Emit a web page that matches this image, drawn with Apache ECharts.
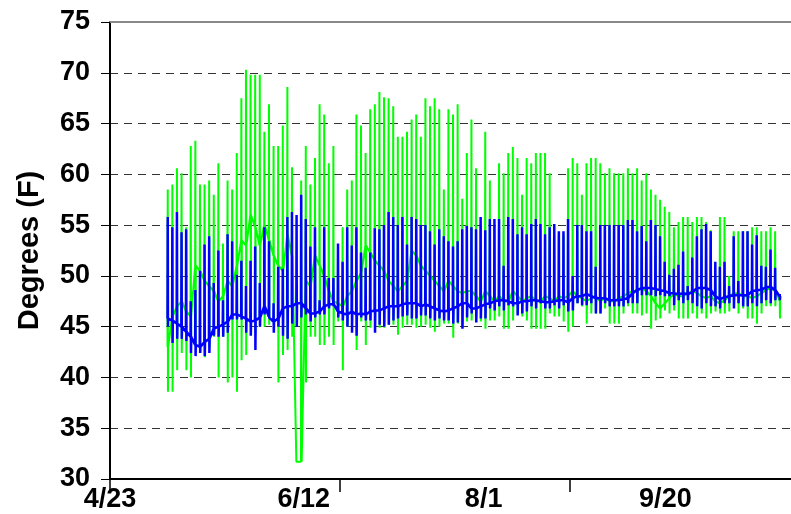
<!DOCTYPE html>
<html>
<head>
<meta charset="utf-8">
<script src="https://cdn.jsdelivr.net/npm/echarts@6/dist/echarts.min.js"></script>
<style>
  html, body { margin: 0; padding: 0; background: #fff; }
  #chart { width: 791px; height: 514px; }
</style>
</head>
<body>
<div id="chart"></div>
<script>
// Daily temperature readings (deg F), one entry per day starting at firstDay
// (days counted from 4/23). Each day: base level, daily high, daily low.
const firstDay = 12.5;

const greenBase = [
  43, 46, 47, 47.5, 46.5, 46, 51, 50.5, 49.5, 49, 48.5, 47.5, 48, 49.5, 49, 51, 53.5, 53, 56, 54.8, 53,
  55, 53.5, 52, 51, 50.5, 54, 52, 31.7, 31.7, 49.5, 49, 52, 51, 50, 48.5, 47.5, 47.3, 47, 48, 48.5, 49.5, 50.3,
  53, 52.3, 51.5, 51, 50.5, 49.5, 49, 48.5, 49, 49.5, 52.5, 52, 51, 50.5, 50, 49.5, 49, 48.5, 49.5, 49, 48.5, 48.3, 48.5,
  48.5, 48, 47.5, 48.5, 48, 47.5, 48, 47.5, 47.5, 48.5, 48, 47.5, 47.8, 48, 47.5, 47.5, 48, 47.8, 47.5, 48, 47.8, 48, 48.5,
  48, 47.8, 47.5, 47.8, 48, 47.5, 47.8, 47.5, 47.5, 47.8, 48, 48.3, 48.5, 48.6, 48.8, 48.5, 48, 47.3, 46.8, 47.3, 47.8, 48.2, 48,
  48, 48.3, 48.5, 48.3, 48, 47.8, 48, 47.5, 47.3, 47.6, 48, 48.3, 48.3, 48, 48, 47.8, 48, 48.3, 48.6, 48.8, 48.5, 47.6
];
const greenHigh = [
  58.5, 59.0, 60.6, 60.1, 54.8, 62.8, 63.3, 59.0, 59.0, 59.4, 58.0, 61.1, 53.2, 59.4, 58.5, 62.1, 67.5, 70.3, 69.8, 69.8, 69.8,
  64.2, 66.9, 62.8, 62.8, 64.8, 68.6, 60.7, 31.7, 59.4, 62.8, 59.0, 61.6, 66.9, 65.9, 61.1, 62.8, 53.0, 54.8, 58.5, 59.4, 65.9, 64.8,
  62.1, 66.4, 66.9, 68.1, 67.6, 67.5, 66.7, 63.7, 63.7, 64.2, 65.4, 65.9, 63.7, 67.5, 66.7, 67.5, 66.4, 58.5, 66.4, 65.9, 66.9, 57.6, 62.1,
  65.4, 60.6, 55.0, 64.2, 59.4, 55.0, 61.1, 60.1, 62.1, 62.7, 61.6, 58.0, 61.6, 61.1, 62.1, 62.1, 62.1, 60.1, 54.0, 54.0, 54.0, 60.6, 61.6,
  61.1, 58.0, 61.1, 61.6, 61.6, 61.1, 60.1, 60.6, 60.1, 60.1, 60.1, 60.6, 60.1, 60.6, 59.4, 60.1, 58.5, 58.0, 57.5, 56.8, 56.3, 54.8, 55.3,
  55.8, 55.8, 55.3, 55.8, 55.8, 55.3, 54.5, 50.0, 55.8, 55.8, 50.0, 54.4, 54.4, 54.4, 54.4, 54.8, 54.8, 54.4, 54.4, 54.8, 54.4, 48.2
];
const greenLow = [
  38.6, 38.6, 40.7, 42.4, 40.7, 40.0, 43.3, 43.0, 42.0, 43.0, 44.0, 40.0, 44.0, 39.5, 40.0, 38.6, 41.7, 42.2, 45.0, 44.5, 45.0,
  45.0, 45.2, 45.5, 39.5, 42.2, 42.7, 44.0, 31.7, 40.0, 39.5, 44.0, 44.0, 43.2, 43.2, 44.0, 43.2, 45.5, 40.7, 45.0, 45.5, 42.7, 45.5,
  43.2, 44.9, 44.9, 44.9, 44.9, 45.2, 45.2, 44.2, 44.9, 45.2, 45.2, 44.9, 45.0, 45.2, 44.9, 44.5, 45.0, 45.3, 45.3, 43.9, 45.3, 44.9, 45.5,
  45.6, 46.0, 45.5, 44.8, 45.6, 45.6, 46.0, 44.8, 44.8, 45.6, 46.3, 46.0, 45.6, 44.8, 44.8, 44.8, 44.8, 46.3, 46.0, 46.0, 45.5, 44.5, 45.0,
  47.3, 47.0, 45.3, 46.3, 46.3, 46.3, 46.8, 45.3, 45.3, 45.3, 46.3, 47.0, 46.3, 46.3, 46.1, 46.3, 44.8, 45.6, 45.8, 46.6, 46.3, 46.6, 45.8,
  45.8, 45.8, 46.3, 45.8, 46.3, 45.8, 46.3, 46.5, 46.3, 46.3, 46.5, 47.0, 46.3, 46.8, 45.8, 45.8, 45.3, 46.3, 47.0, 47.0, 47.0, 45.8
];

const blueBase = [
  45.8, 45.6, 45.3, 45.0, 44.5, 44.0, 43.2, 43.0, 43.5, 43.8, 44.8, 45.0, 45.2, 45.5, 46.2, 46.2, 46.0, 45.8, 45.5, 45.6, 45.9,
  47.0, 46.0, 45.5, 45.8, 46.8, 47.0, 47.0, 47.3, 47.3, 46.8, 46.3, 46.3, 46.5, 47.0, 47.2, 47.2, 46.5, 46.3, 46.2, 46.5, 46.2, 46.3,
  46.2, 46.5, 46.6, 46.6, 46.8, 47.0, 47.0, 47.0, 47.2, 47.3, 47.3, 47.3, 47.0, 47.2, 47.0, 46.8, 46.6, 46.5, 46.6, 46.8, 47.0, 47.3, 47.3,
  46.8, 46.8, 47.0, 47.2, 47.3, 47.5, 47.6, 47.6, 47.5, 47.3, 47.3, 47.5, 47.5, 47.6, 47.6, 47.5, 47.4, 47.4, 47.5, 47.6, 47.6, 47.4, 47.8,
  48.0, 48.0, 48.2, 48.0, 47.8, 47.8, 47.8, 47.6, 47.6, 47.6, 47.7, 47.8, 48.3, 48.6, 48.8, 48.8, 48.8, 48.7, 48.6, 48.5, 48.3, 48.3, 48.2,
  48.3, 48.2, 48.4, 48.8, 48.8, 48.8, 48.6, 48.0, 47.7, 47.9, 48.0, 48.1, 48.1, 48.1, 48.1, 48.5, 48.6, 48.6, 48.9, 48.9, 48.6, 48.0
];
const blueHigh = [
  55.8, 54.8, 56.3, 54.3, 54.6, 47.5, 48.6, 50.5, 53.1, 53.9, 49.3, 52.5, 47.6, 54.1, 53.4, 50.1, 51.5, 49.0, 51.5, 52.9, 49.3,
  54.8, 53.4, 47.3, 50.9, 50.7, 55.8, 56.3, 56.0, 58.0, 55.6, 52.9, 54.8, 47.6, 54.8, 49.8, 49.8, 53.2, 51.4, 54.8, 53.0, 54.8, 52.3,
  50.8, 52.3, 54.7, 54.6, 55.0, 56.3, 55.8, 55.0, 55.8, 53.1, 55.8, 55.6, 55.0, 55.0, 54.4, 53.1, 54.6, 53.9, 53.4, 52.9, 53.4, 54.6, 54.9,
  54.8, 54.6, 55.8, 54.5, 55.6, 55.6, 55.6, 51.0, 55.8, 55.6, 54.1, 54.8, 54.1, 55.1, 55.6, 55.1, 54.1, 54.8, 55.1, 54.4, 54.4, 55.6, 50.0,
  55.0, 55.0, 54.4, 54.4, 50.9, 55.0, 55.0, 55.0, 55.0, 55.0, 55.0, 55.5, 55.5, 54.4, 54.9, 53.4, 55.5, 55.0, 53.9, 51.4, 50.1, 50.7, 51.1,
  52.4, 49.0, 51.8, 53.9, 54.6, 55.1, 54.4, 51.4, 50.9, 51.4, 49.0, 53.9, 49.5, 54.4, 54.4, 53.1, 54.0, 51.0, 50.9, 52.6, 50.8, 48.2
];
const blueLow = [
  45.0, 43.4, 43.8, 43.8, 43.6, 42.4, 42.1, 42.4, 42.1, 42.4, 44.1, 44.0, 44.0, 44.4, 45.7, 45.7, 45.7, 44.4, 44.1, 42.7, 45.0,
  46.2, 45.9, 44.4, 45.0, 44.1, 43.8, 45.3, 45.0, 45.9, 46.2, 45.5, 45.9, 46.2, 46.2, 46.8, 47.0, 45.9, 45.6, 45.0, 44.4, 44.1, 45.9,
  45.6, 45.6, 44.4, 45.2, 45.0, 45.2, 45.6, 45.8, 46.0, 46.1, 45.8, 45.8, 46.1, 46.1, 45.8, 45.6, 45.8, 45.6, 45.6, 45.3, 45.4, 44.8, 45.9,
  46.3, 45.4, 45.8, 45.8, 46.8, 46.6, 47.0, 46.6, 47.1, 47.0, 46.1, 46.3, 46.5, 47.0, 46.8, 47.3, 46.8, 46.8, 47.1, 46.8, 47.1, 46.5, 46.6,
  47.3, 47.1, 47.1, 47.3, 46.3, 46.3, 47.3, 47.0, 47.0, 47.0, 47.0, 47.3, 47.3, 47.3, 48.1, 48.1, 48.1, 48.0, 48.1, 48.0, 48.0, 47.1, 47.6,
  47.3, 47.6, 47.3, 47.0, 46.8, 47.3, 47.0, 47.0, 46.8, 47.3, 47.3, 46.8, 47.3, 47.0, 47.0, 47.3, 47.0, 47.3, 47.6, 47.3, 47.6, 47.6
];

// Axis ticks (days from 4/23) and date labels
const tickDays = [0, 50, 100];
const dateLabels = ['4/23', '6/12', '8/1', '9/20'];
const labelDays = [0, 42.1, 81.2, 120.7];

// Expand each day's base/high/low into a within-day trace:
// base -> high -> low -> back to base, then on to the next day.
function dailyTrace(base, high, low) {
  const pts = [];
  for (let i = 0; i < base.length; i++) {
    const d = firstDay + i;
    pts.push([d, base[i]]);
    pts.push([d + 0.05, high[i]]);
    pts.push([d + 0.1, low[i]]);
    pts.push([d + 0.15, base[i]]);
  }
  return pts;
}

const labelFont = "'Liberation Sans Narrow', 'Arial Narrow', 'Liberation Sans', Arial, sans-serif";

const chart = echarts.init(document.getElementById('chart'), null, { renderer: 'canvas' });
chart.setOption({
  animation: false,
  backgroundColor: '#fff',
  grid: { left: 110, right: -1, top: 22, bottom: 35 },
  xAxis: [
    {
      type: 'value',
      min: 0,
      max: 148,
      axisLine: { lineStyle: { color: '#000', width: 2 } },
      axisTick: { customValues: tickDays, length: 13, lineStyle: { color: '#000', width: 1.5 } },
      axisLabel: {
        customValues: labelDays,
        formatter: (v) => dateLabels[labelDays.indexOf(v)] || '',
        margin: 7,
        color: '#000',
        fontFamily: labelFont,
        fontWeight: 'bold',
        fontSize: 27,
        showMinLabel: true
      },
      splitLine: { show: false }
    },
    {
      type: 'value',
      position: 'top',
      min: 0,
      max: 148,
      axisLine: { show: true, lineStyle: { color: '#888', width: 2 } },
      axisTick: { show: false },
      axisLabel: { show: false },
      splitLine: { show: false }
    }
  ],
  yAxis: {
    type: 'value',
    min: 30,
    max: 75,
    interval: 5,
    name: 'Degrees (F)',
    nameLocation: 'middle',
    nameGap: 66,
    nameTextStyle: {
      color: '#000',
      fontFamily: "'Liberation Sans', Arial, sans-serif",
      fontWeight: 'bold',
      fontSize: 29
    },
    axisLine: { show: true, lineStyle: { color: '#000', width: 2 } },
    axisTick: { show: true, length: 9, lineStyle: { color: '#000', width: 1 } },
    axisLabel: {
      margin: 20,
      color: '#000',
      fontFamily: labelFont,
      fontWeight: 'bold',
      fontSize: 27
    },
    splitLine: { show: true, lineStyle: { color: '#333', width: 1, type: [8, 6] } }
  },
  series: [
    {
      name: 'green',
      type: 'line',
      data: dailyTrace(greenBase, greenHigh, greenLow),
      showSymbol: false,
      symbol: 'none',
      sampling: null,
      lineStyle: { color: '#00ff00', width: 2, join: 'bevel' },
      z: 2
    },
    {
      name: 'blue',
      type: 'line',
      data: dailyTrace(blueBase, blueHigh, blueLow),
      showSymbol: false,
      symbol: 'none',
      sampling: null,
      lineStyle: { color: '#0000ff', width: 2.5, join: 'bevel' },
      z: 3
    }
  ]
});
</script>
</body>
</html>
